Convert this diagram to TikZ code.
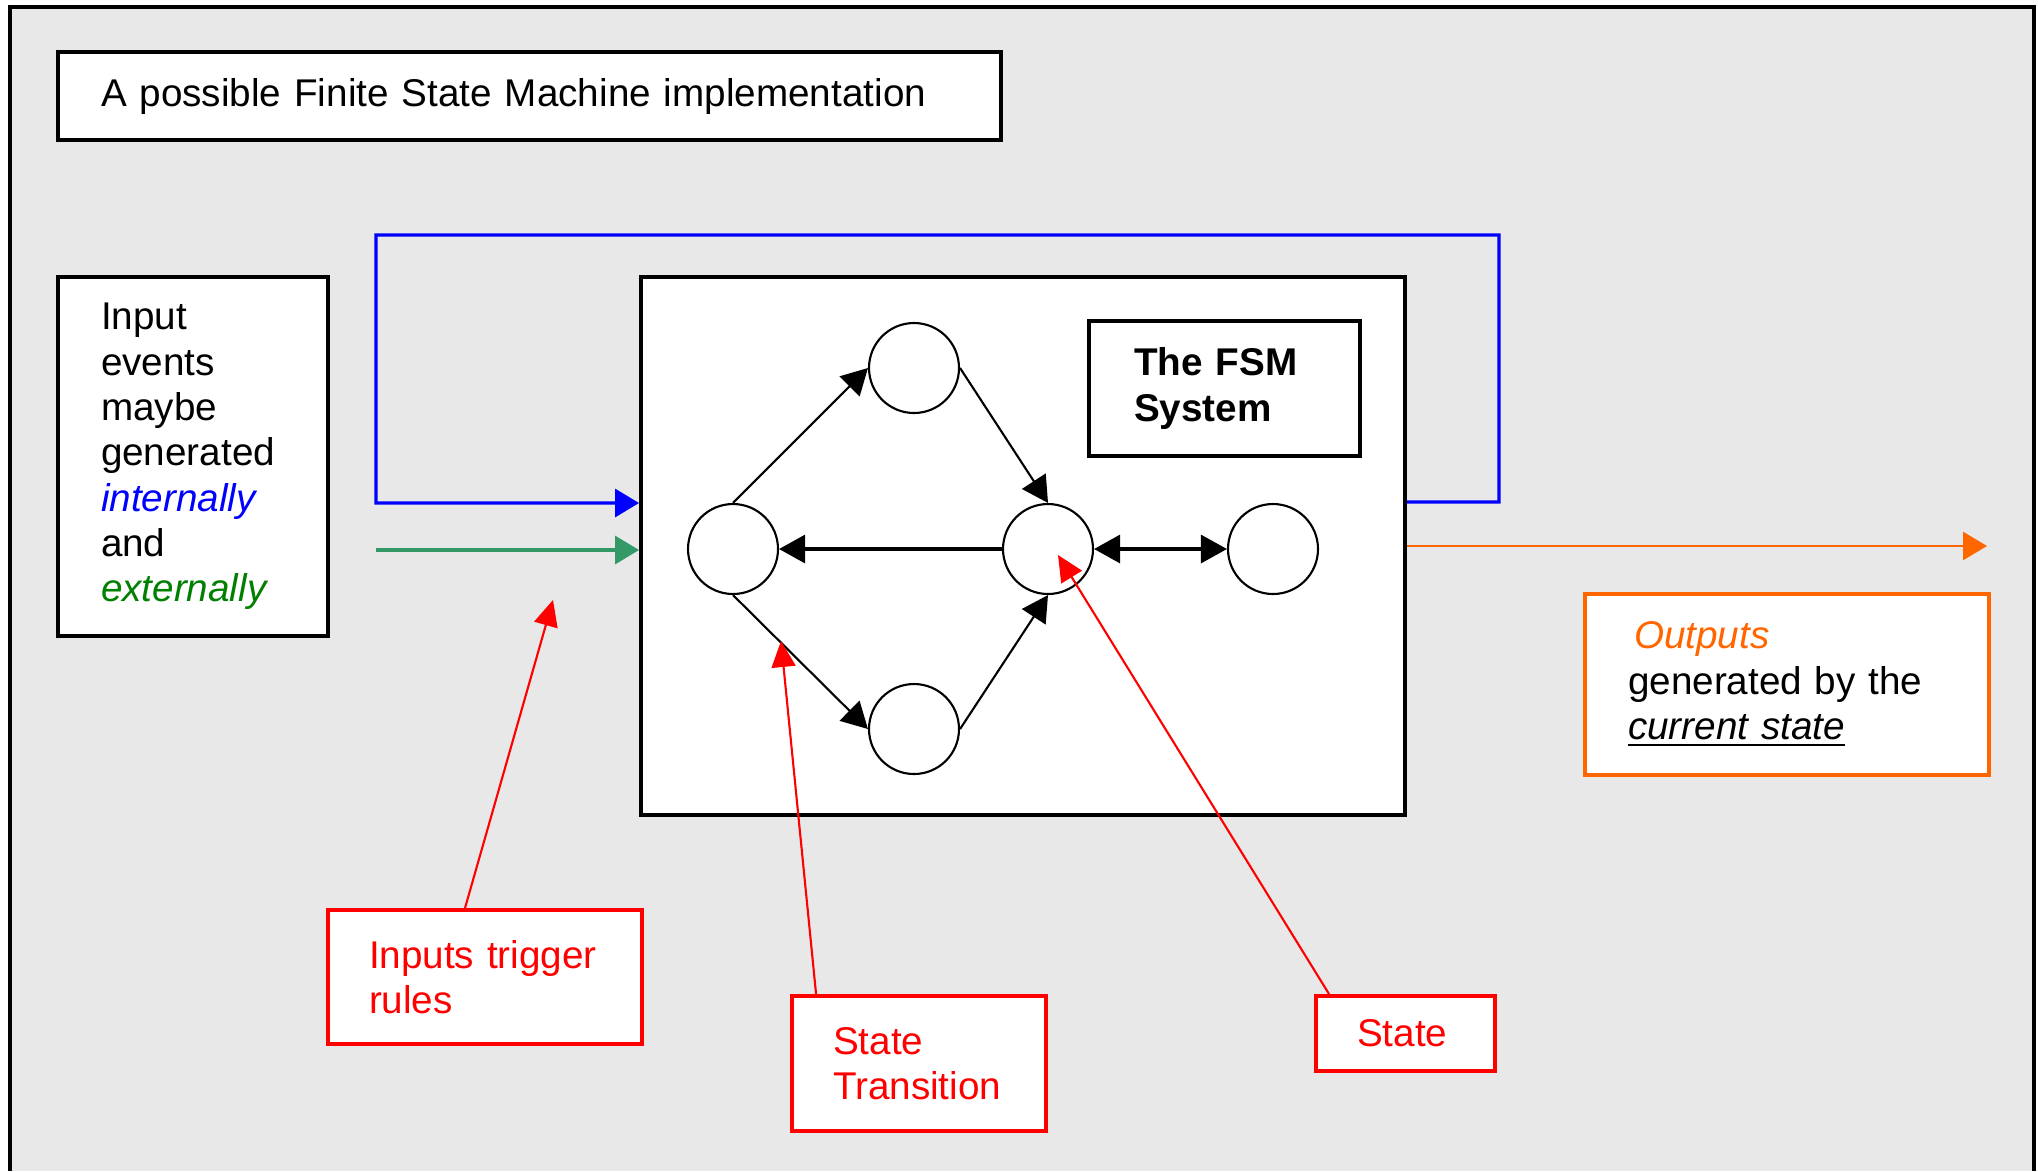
\documentclass[tikz,border=0pt]{standalone}
\usepackage{fontspec}
\setmainfont{Liberation Sans}
\usetikzlibrary{arrows.meta,calc}
\definecolor{panel}{RGB}{232,232,232}
\definecolor{loopblue}{RGB}{0,0,255}
\definecolor{extgreen}{RGB}{51,153,102}
\definecolor{textgreen}{RGB}{0,128,0}
\definecolor{outorange}{RGB}{255,102,0}
\definecolor{notered}{RGB}{255,0,0}

\begin{document}
\begin{tikzpicture}[
    font=\fontsize{11}{12.9}\selectfont,
    infobox/.style={draw,fill=white,line width=1.1pt,inner sep=0pt,align=left},
    notebox/.style={infobox,draw=notered,text=notered},
    fsmstate/.style={circle,draw,fill=white,line width=0.6pt,minimum size=0.9cm,inner sep=0pt},
    trans/.style={-{Triangle[length=2.6mm,width=2.8mm]},line width=0.6pt},
    feedback/.style={-{Triangle[length=2.4mm,width=2.8mm]},line width=0.9pt,draw=loopblue},
    extinput/.style={-{Triangle[length=2.4mm,width=2.8mm]},line width=0.9pt,draw=extgreen},
    output/.style={-{Triangle[length=2.4mm,width=2.8mm]},line width=0.8pt,draw=outorange},
    pointer/.style={-{Triangle[length=2.6mm,width=2.4mm]},line width=0.6pt,draw=notered}
  ]
    \useasboundingbox (0,0) rectangle (20.38,-11.71);
    \fill[panel] (0.10,-0.07) rectangle (20.34,-11.71);
    \draw[line width=1.1pt] (0.10,-11.71) -- (0.10,-0.07) -- (20.34,-0.07) -- (20.34,-11.71);

    \node[infobox,minimum width=9.43cm,minimum height=0.88cm,text width=8.57cm] (title) at (5.295,-0.96)
      {A possible Finite State Machine implementation};
    \node[infobox,minimum width=2.70cm,minimum height=3.59cm,text width=1.84cm] (inputs) at (1.93,-4.565)
      {Input\\events\\maybe\\generated\\\textcolor{loopblue}{\textit{internally}}\\and\\\textcolor{textgreen}{\textit{externally}}};
    \node[infobox,minimum width=7.64cm,minimum height=5.38cm] (fsm) at (10.23,-5.46) {};
    \node[infobox,minimum width=2.71cm,minimum height=1.35cm,text width=1.81cm] (fsmlabel) at (12.245,-3.885)
      {\bfseries The FSM\\System};
    \node[infobox,draw=outorange,minimum width=4.04cm,minimum height=1.81cm,text width=3.18cm] (outputs) at (17.87,-6.845)
      {\hspace*{0.06cm}\textcolor{outorange}{\textit{Outputs}}\\generated by the\\\underline{\textit{current state}}};

    \node[fsmstate] (sleft) at (7.33,-5.49) {};
    \node[fsmstate] (stop) at (9.14,-3.68) {};
    \node[fsmstate] (sbot) at (9.14,-7.29) {};
    \node[fsmstate] (smid) at (10.48,-5.49) {};
    \node[fsmstate] (sright) at (12.73,-5.49) {};
    \draw[trans] (sleft.north) -- (stop.west);
    \draw[trans] (stop.east) -- (smid.north);
    \draw[trans,line width=0.9pt] (smid.west) -- (sleft.east);
    \draw[trans] (sleft.south) -- (sbot.west);
    \draw[trans] (sbot.east) -- (smid.south);
    \draw[{Triangle[length=2.6mm,width=2.8mm]}-{Triangle[length=2.6mm,width=2.8mm]},line width=0.9pt] (smid.east) -- (sright.west);

    \draw[feedback] ([yshift=0.44cm]fsm.east) -| (14.99,-2.35) -| (3.76,-5.03) -- ([yshift=0.43cm]fsm.west);
    \coordinate (extin) at (3.76,-5.50);
    \draw[extinput] (extin) -- (extin -| fsm.west);
    \coordinate (outend) at (19.87,-5.46);
    \draw[output] (fsm.east) -- (outend);

    \node[notebox,minimum width=3.14cm,minimum height=1.34cm,text width=2.32cm] (rulesnote) at (4.85,-9.77)
      {Inputs~trigger\\rules};
    \node[notebox,minimum width=2.54cm,minimum height=1.35cm,text width=1.72cm] (transnote) at (9.19,-10.635)
      {State\\Transition};
    \node[notebox,minimum width=1.79cm,minimum height=0.75cm,text width=0.97cm] (statenote) at (14.055,-10.335)
      {State};
    \coordinate (trigger) at (5.53,-6.00);
    \coordinate (transpt) at (7.81,-6.41);
    \coordinate (statept) at (10.58,-5.55);
    \draw[pointer] ([xshift=-0.2cm]rulesnote.north) -- (trigger);
    \draw[pointer] ([xshift=0.26cm]transnote.north west) -- (transpt);
    \draw[pointer] ([xshift=0.15cm]statenote.north west) -- (statept);
\end{tikzpicture}
\end{document}
